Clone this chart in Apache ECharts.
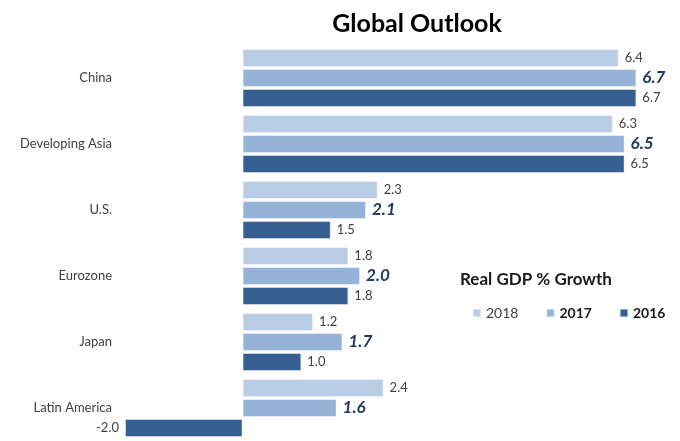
<!DOCTYPE html>
<html>
<head>
<meta charset="utf-8">
<script src="https://cdn.jsdelivr.net/npm/echarts@6/dist/echarts.min.js"></script>
<style>html,body{margin:0;padding:0;background:#fff}#c{width:680px;height:441px}</style>
</head>
<body>
<div id="c"></div>
<script>
const categories = ['China', 'Developing Asia', 'U.S.', 'Eurozone', 'Japan', 'Latin America'];
const seriesNames = ['2018', '2017', '2016'];
const values2018 = [6.4, 6.3, 2.3, 1.8, 1.2, 2.4];
const values2017 = [6.7, 6.5, 2.1, 2.0, 1.7, 1.6];
const values2016 = [6.7, 6.5, 1.5, 1.8, 1.0, -2.0];

const FONT = 'Lato, "Liberation Sans", sans-serif';
const colors = ['#B9CDE5', '#95B3D7', '#366092'];

function toData(arr) {
  return arr.map(v => ({ value: v, label: { position: v < 0 ? 'left' : 'right' } }));
}
function mkLabel(bold) {
  return bold
    ? { show: true, distance: 6, formatter: p => p.value.toFixed(1), fontFamily: FONT, fontSize: 17, fontWeight: 'bold', fontStyle: 'italic', color: '#1F3864' }
    : { show: true, distance: 6, formatter: p => p.value.toFixed(1), fontFamily: FONT, fontSize: 13, color: '#404040' };
}
const allValues = [values2018, values2017, values2016];

const chart = echarts.init(document.getElementById('c'), null, { renderer: 'canvas' });
chart.setOption({
  animation: false,
  title: [
    { text: 'Global Outlook', left: 412, top: 6, textAlign: 'center',
      textStyle: { fontFamily: FONT, fontSize: 25, fontWeight: 'bold', color: '#000' } },
    { text: 'Real GDP % Growth', left: 455, top: 266,
      textStyle: { fontFamily: FONT, fontSize: 17, fontWeight: 'bold', color: '#1a1a1a' } }
  ],
  legend: {
    data: seriesNames,
    left: 467, top: 301, width: 240, orient: 'horizontal',
    itemWidth: 8, itemHeight: 8, itemGap: 27,
    icon: 'rect',
    formatter: n => n === '2018' ? n : '{b|' + n + '}',
    textStyle: { fontFamily: FONT, fontSize: 14, color: '#404040',
      rich: { b: { fontFamily: FONT, fontSize: 14, fontWeight: 'bold', color: '#1a1a1a' } } }
  },
  grid: { left: 125, right: 26, top: 45, bottom: 0, containLabel: false },
  xAxis: { type: 'value', min: -2, max: 7, show: false },
  yAxis: {
    type: 'category', data: categories, inverse: true,
    axisLine: { show: false, onZero: false }, axisTick: { show: false },
    axisLabel: { margin: 13, align: 'right', fontFamily: FONT, fontSize: 13, color: '#404040' }
  },
  series: seriesNames.map((name, i) => ({
    name, type: 'bar',
    data: toData(allValues[i]),
    barCategoryGap: '12%', barGap: '11%',
    itemStyle: { color: colors[i], borderColor: 'rgba(255,255,255,0.45)', borderWidth: 1 },
    label: mkLabel(i === 1)
  }))
});
</script>
</body>
</html>
